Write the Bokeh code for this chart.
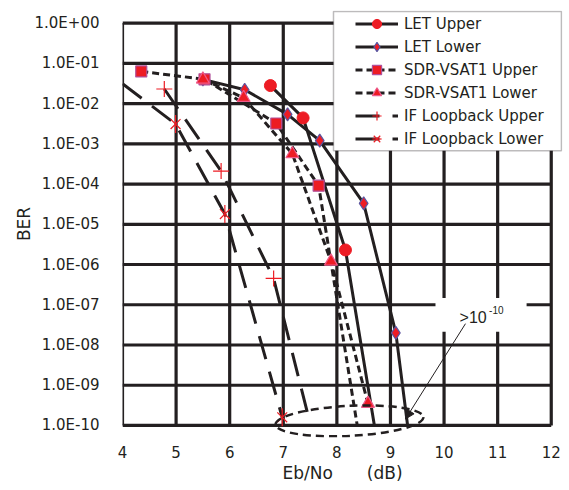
import numpy as np
from bokeh.plotting import figure
from bokeh.models import (Range1d, FixedTicker, Legend, LegendItem, BoxAnnotation,
                          Arrow, NormalHead)
from bokeh.embed import file_html
from bokeh.resources import INLINE
from bokeh.core.properties import value

# ---------------- data ----------------
x_ticks = [4, 5, 6, 7, 8, 9, 10, 11, 12]
y_exponents = [-10, -9, -8, -7, -6, -5, -4, -3, -2, -1, 0]
y_tick_labels = ["1.0E-10", "1.0E-09", "1.0E-08", "1.0E-07", "1.0E-06", "1.0E-05",
                 "1.0E-04", "1.0E-03", "1.0E-02", "1.0E-01", "1.0E+00"]
floor_ber = 1e-10

let_upper_x = [6.76, 7.37, 8.16]
let_upper_ber = [2.8e-2, 4.4e-3, 2.3e-6]
let_upper_end_x = 8.70

let_lower_x = [5.50, 6.28, 7.08, 7.68, 8.50, 9.10]
let_lower_ber = [4.0e-2, 2.2e-2, 5.4e-3, 1.2e-3, 3.3e-5, 2.0e-8]
let_lower_end_x = 9.32

sdr_upper_x = [4.35, 5.53, 6.87, 7.66]
sdr_upper_ber = [6.3e-2, 4.0e-2, 3.2e-3, 9.1e-5]
sdr_upper_end_x = 8.38

sdr_lower_x = [5.50, 6.26, 7.17, 7.89, 8.58]
sdr_lower_ber = [4.0e-2, 1.4e-2, 5.6e-4, 1.2e-6, 3.5e-10]

if_upper_x = [4.78, 5.84, 6.82]
if_upper_ber = [2.3e-2, 2.1e-4, 4.5e-7]
if_upper_end_x = 7.51

if_lower_start_x = 4.0
if_lower_start_ber = 3.1e-2
if_lower_x = [4.99, 5.91, 6.98]
if_lower_ber = [3.1e-3, 1.8e-5, 1.6e-10]

# annotation geometry (data units; y in log10)
note_box = dict(left=9.84, right=11.54, top=-6.83, bottom=-7.67)
note_text_pos = (10.29, -7.32)
note_sup_pos = (10.84, -7.14)
arrow_start = (10.40, -7.47)
arrow_end = (9.28, -9.84)
ellipse_center = (8.235, -9.886)
legend_box = dict(left=7.937, right=12.19, top=0.289, bottom=-3.17)

# ---------------- figure ----------------
INK = "#231f20"
RED = "#ed1c24"
FONT = "DejaVu Sans"

p = figure(width=569, height=490, output_backend="svg", toolbar_location=None,
           x_range=Range1d(4.0, 12.21), y_range=Range1d(-10.299, 0.313),
           min_border_left=122, min_border_right=7, min_border_top=10,
           min_border_bottom=53)
p.outline_line_color = None
p.background_fill_color = "white"
p.border_fill_color = "white"
p.xgrid.visible = False
p.ygrid.visible = False

p.xaxis.ticker = FixedTicker(ticks=x_ticks)
p.yaxis.ticker = FixedTicker(ticks=y_exponents)
p.yaxis.major_label_overrides = {e: lab for e, lab in zip(y_exponents, y_tick_labels)}
for ax in (p.xaxis[0], p.yaxis[0]):
    ax.axis_line_color = None
    ax.major_tick_line_color = None
    ax.minor_tick_line_color = None
    ax.major_label_text_font = FONT
    ax.major_label_text_font_size = "15px"
    ax.major_label_text_color = INK
    ax.axis_label_text_font = FONT
    ax.axis_label_text_font_size = "17px"
    ax.axis_label_text_font_style = "normal"
    ax.axis_label_text_color = INK
p.xaxis.major_label_standoff = 2
p.yaxis.major_label_standoff = 17
p.xaxis.axis_label = "Eb/No\u3000\u3000(dB)"
p.yaxis.axis_label = "BER"
p.xaxis.axis_label_standoff = 2
p.yaxis.axis_label_standoff = -2

# grid (frame included), drawn from tick arrays
p.segment(x0=x_ticks, y0=[y_exponents[0]] * len(x_ticks), x1=x_ticks,
          y1=[y_exponents[-1]] * len(x_ticks), line_color=INK, line_width=3.2)
p.segment(x0=[x_ticks[0]] * len(y_exponents), y0=y_exponents,
          x1=[x_ticks[-1]] * len(y_exponents), y1=y_exponents, line_color=INK, line_width=3.2)

# white box behind the note
p.quad(left=[note_box["left"]], right=[note_box["right"]], top=[note_box["top"]],
       bottom=[note_box["bottom"]], fill_color="white", line_color=None)

lg = np.log10
LW = 3
SHORT = "7 4"
LONG = "24 13"

def curve(xs, bers, dash):
    return p.line(xs, lg(bers), line_color=INK, line_width=LW, line_dash=dash)

r_lu_l = curve(let_upper_x + [let_upper_end_x], let_upper_ber + [floor_ber], "solid")
r_ll_l = curve(let_lower_x + [let_lower_end_x], let_lower_ber + [floor_ber], "solid")
r_su_l = curve(sdr_upper_x + [sdr_upper_end_x], sdr_upper_ber + [floor_ber], SHORT)
r_sl_l = curve(sdr_lower_x, sdr_lower_ber, SHORT)
r_iu_l = curve(if_upper_x + [if_upper_end_x], if_upper_ber + [floor_ber], LONG)
r_il_l = curve([if_lower_start_x] + if_lower_x, [if_lower_start_ber] + if_lower_ber, LONG)

r_lu_m = p.scatter(let_upper_x, lg(let_upper_ber), marker="circle", size=12,
                   fill_color=RED, line_color=RED)
r_ll_m = p.scatter(let_lower_x, lg(let_lower_ber), marker="diamond", size=13,
                   fill_color=RED, line_color="#5b55a0", line_width=1.2)
r_su_m = p.scatter(sdr_upper_x, lg(sdr_upper_ber), marker="square", size=11,
                   fill_color=RED, line_color="#b0509a", line_width=1.2)
r_sl_m = p.scatter(sdr_lower_x, lg(sdr_lower_ber), marker="triangle", size=13,
                   fill_color=RED, line_color="#ee5a8a", line_width=1.2)
r_iu_m = p.scatter(if_upper_x, lg(if_upper_ber), marker="cross", size=16,
                   fill_color=None, line_color=RED, line_width=1.2)
r_il_m1 = p.scatter(if_lower_x, lg(if_lower_ber), marker="x", size=14,
                    fill_color=None, line_color=RED, line_width=1.2)
r_il_m2 = p.scatter(if_lower_x, lg(if_lower_ber), marker="dash", size=18, angle=np.pi / 2,
                    fill_color=None, line_color=RED, line_width=1.2)

# dashed ellipse around the error floor region
p.ellipse(x=[ellipse_center[0]], y=[ellipse_center[1]], width=148, height=30,
          width_units="screen", height_units="screen", angle=0.05,
          fill_color=None, line_color=INK, line_width=2.5, line_dash="8 5")

# arrow and note text
p.add_layout(Arrow(end=NormalHead(size=9, fill_color=INK, line_color=INK),
                   x_start=arrow_start[0], y_start=arrow_start[1],
                   x_end=arrow_end[0], y_end=arrow_end[1],
                   line_color=INK, line_width=1))
p.text(x=[note_text_pos[0]], y=[note_text_pos[1]], text=[">10"],
       text_font=value("Liberation Sans"), text_font_size="16px",
       text_baseline="middle", text_align="left", text_color=INK)
p.text(x=[note_sup_pos[0]], y=[note_sup_pos[1]], text=["-10"],
       text_font=value("Liberation Sans"), text_font_size="10px",
       text_baseline="middle", text_align="left", text_color=INK)

# legend box and legend
p.add_layout(BoxAnnotation(left=legend_box["left"], right=legend_box["right"],
                           top=legend_box["top"], bottom=legend_box["bottom"],
                           fill_color="white", fill_alpha=1.0,
                           line_color=INK, line_width=1.5))
legend = Legend(items=[
    LegendItem(label="LET Upper", renderers=[r_lu_l, r_lu_m]),
    LegendItem(label="LET Lower", renderers=[r_ll_l, r_ll_m]),
    LegendItem(label="SDR-VSAT1 Upper", renderers=[r_su_l, r_su_m]),
    LegendItem(label="SDR-VSAT1 Lower", renderers=[r_sl_l, r_sl_m]),
    LegendItem(label="IF Loopback Upper", renderers=[r_iu_l, r_iu_m]),
    LegendItem(label="IF Loopback Lower", renderers=[r_il_l, r_il_m1, r_il_m2]),
], location=(233, 287), glyph_width=43, glyph_height=23, label_height=23,
    spacing=0, padding=0, margin=0, label_standoff=6,
    border_line_color=None, background_fill_alpha=0.0,
    label_text_font=FONT, label_text_font_size="15px", label_text_color=INK)
p.add_layout(legend, "center")

open("out.html", "w").write(file_html(p, INLINE))
